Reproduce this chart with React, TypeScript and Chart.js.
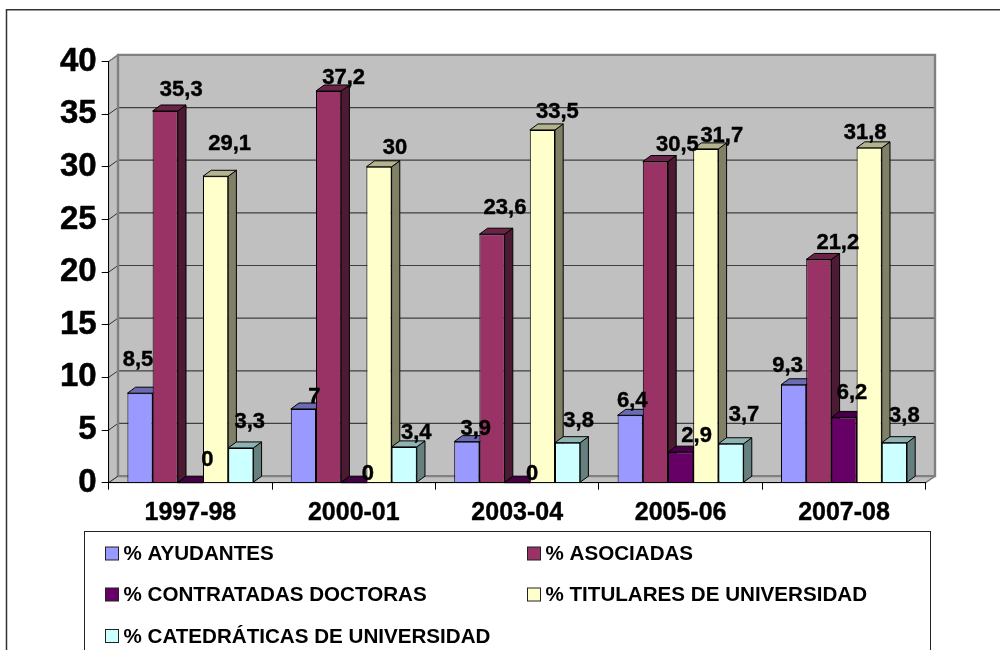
import React, { useEffect, useRef } from "react";
import { Chart, registerables } from "chart.js";

Chart.register(...registerables);

const categories = ["1997-98", "2000-01", "2003-04", "2005-06", "2007-08"];
const seriesNames = [
  "% AYUDANTES",
  "% ASOCIADAS",
  "% CONTRATADAS DOCTORAS",
  "% TITULARES DE UNIVERSIDAD",
  "% CATEDRÁTICAS DE UNIVERSIDAD",
];
const ayudantes = [8.5, 7, 3.9, 6.4, 9.3];
const asociadas = [35.3, 37.2, 23.6, 30.5, 21.2];
const contratadas = [0, 0, 0, 2.9, 6.2];
const titulares = [29.1, 30, 33.5, 31.7, 31.8];
const catedraticas = [3.3, 3.4, 3.8, 3.7, 3.8];
const seriesValues = [ayudantes, asociadas, contratadas, titulares, catedraticas];

const frontColors = ["#9999FF", "#993366", "#660066", "#FFFFCC", "#CCFFFF"];
const topColors = ["#6B6BB3", "#6B2447", "#470047", "#B3B38F", "#8FB3B3"];
const sideColors = ["#4D4D80", "#4D1A33", "#330033", "#808066", "#668080"];

// Data-label displacement from each bar's top centre
const labelShift: number[][][] = [
  [[-2, -33], [11, -12], [9, -13], [2, -14], [-6, -19]],
  [[16, -21], [15, -13], [13, -26], [22, -17], [19, -17]],
  [[17, -23], [14, -9], [15, -9], [16, -16], [8, -24]],
  [[14, -32], [16, -19], [15, -18], [16, -13], [-4, -15]],
  [[9, -26], [12, -14], [11, -22], [13, -29], [10, -27]],
];

const FONT = '"Liberation Sans", Arial, sans-serif';
const BAR_DX = 8.2;
const BAR_DY = -6;
const WALL_DX = 9.3;
const WALL_DY = -6.6;

function poly(ctx: CanvasRenderingContext2D, pts: number[][], fill: string | null, stroke: string | null, lw = 1) {
  ctx.beginPath();
  pts.forEach((p, i) => (i ? ctx.lineTo(p[0], p[1]) : ctx.moveTo(p[0], p[1])));
  ctx.closePath();
  if (fill) {
    ctx.fillStyle = fill;
    ctx.fill();
  }
  if (stroke) {
    ctx.strokeStyle = stroke;
    ctx.lineWidth = lw;
    ctx.stroke();
  }
}

const wallsPlugin = {
  id: "walls",
  beforeDraw(chart: any) {
    const { ctx, chartArea: a, scales } = chart;
    ctx.save();
    // outer frame, running off the picture to the right and bottom
    ctx.strokeStyle = "#333333";
    ctx.lineWidth = 1.5;
    ctx.strokeRect(6.5, 9.75, 1100, 800);

    const L = a.left, R = a.right, T = a.top, B = a.bottom;
    poly(ctx, [[L, T], [L + WALL_DX, T + WALL_DY], [L + WALL_DX, B + WALL_DY], [L, B]], "#C0C0C0", "#808080", 1);
    poly(ctx, [[L + WALL_DX, T + WALL_DY], [R + WALL_DX, T + WALL_DY], [R + WALL_DX, B + WALL_DY], [L + WALL_DX, B + WALL_DY]], "#C0C0C0", null);
    poly(ctx, [[L, B], [L + WALL_DX, B + WALL_DY], [R + WALL_DX, B + WALL_DY], [R, B]], "#C0C0C0", "#808080", 1);

    // gridlines on the back and side wall
    const y = scales.y;
    y.ticks.forEach((t: any) => {
      const py = y.getPixelForValue(t.value);
      ctx.beginPath();
      ctx.moveTo(L, py);
      ctx.lineTo(L + WALL_DX, py + WALL_DY);
      ctx.strokeStyle = "#333333";
      ctx.lineWidth = 1;
      ctx.stroke();
      if (t.value > 0 && t.value < 40) {
        ctx.beginPath();
        ctx.moveTo(L + WALL_DX, py + WALL_DY);
        ctx.lineTo(R + WALL_DX, py + WALL_DY);
        ctx.strokeStyle = "#404040";
        ctx.lineWidth = 1.2;
        ctx.stroke();
      }
    });
    // thick wall edges
    ctx.strokeStyle = "#808080";
    ctx.lineWidth = 2.4;
    ctx.beginPath();
    ctx.moveTo(L + WALL_DX, B + WALL_DY);
    ctx.lineTo(L + WALL_DX, T + WALL_DY);
    ctx.lineTo(R + WALL_DX, T + WALL_DY);
    ctx.lineTo(R + WALL_DX, B + WALL_DY);
    ctx.lineTo(L + WALL_DX, B + WALL_DY);
    ctx.stroke();
    ctx.lineWidth = 1.5;
    ctx.beginPath();
    ctx.moveTo(L, T);
    ctx.lineTo(L + WALL_DX, T + WALL_DY);
    ctx.moveTo(R, B);
    ctx.lineTo(R + WALL_DX, B + WALL_DY);
    ctx.stroke();
    ctx.restore();
  },
  beforeDatasetsDraw(chart: any) {
    const { ctx } = chart;
    ctx.save();
    ctx.lineJoin = "round";
    chart.data.datasets.forEach((_: any, di: number) => {
      chart.getDatasetMeta(di).data.forEach((bar: any) => {
        const { x, y, base, width } = bar.getProps(["x", "y", "base", "width"], true);
        const l = x - width / 2;
        const r = x + width / 2;
        poly(ctx, [[r, y], [r + BAR_DX, y + BAR_DY], [r + BAR_DX, base + BAR_DY], [r, base]], sideColors[di], "#000000", 1);
        poly(ctx, [[l, y], [l + BAR_DX, y + BAR_DY], [r + BAR_DX, y + BAR_DY], [r, y]], topColors[di], "#000000", 1);
      });
    });
    ctx.restore();
  },
  afterDatasetsDraw(chart: any) {
    const { ctx } = chart;
    ctx.save();
    // data labels
    ctx.font = `bold 22px ${FONT}`;
    ctx.fillStyle = "#000000";
    ctx.strokeStyle = "#000000";
    ctx.lineWidth = 0.4;
    ctx.textAlign = "center";
    ctx.textBaseline = "middle";
    chart.data.datasets.forEach((ds: any, di: number) => {
      chart.getDatasetMeta(di).data.forEach((bar: any, i: number) => {
        const [dx, dy] = labelShift[di][i];
        const text = String(ds.data[i]).replace(".", ",");
        ctx.fillText(text, bar.x + dx, bar.y + dy);
        ctx.strokeText(text, bar.x + dx, bar.y + dy);
      });
    });
    // legend
    ctx.fillStyle = "#FFFFFF";
    ctx.strokeStyle = "#222222";
    ctx.lineWidth = 1;
    ctx.fillRect(84.5, 531.5, 846, 200);
    ctx.strokeRect(84.5, 531.5, 846, 200);
    const colX = [105, 527];
    const rowY = [553.5, 594.5, 636];
    ctx.textAlign = "left";
    ctx.font = `bold 20.6px ${FONT}`;
    chart.data.datasets.forEach((ds: any, di: number) => {
      const sx = colX[di % 2];
      const sy = rowY[Math.floor(di / 2)];
      ctx.fillStyle = ds.backgroundColor;
      ctx.strokeStyle = "#222222";
      ctx.lineWidth = 1;
      ctx.fillRect(sx + 0.5, sy - 6.5, 13, 13);
      ctx.strokeRect(sx + 0.5, sy - 6.5, 13, 13);
      ctx.fillStyle = "#000000";
      ctx.fillText(ds.label, sx + 18.5, sy + 1);
    });
    ctx.restore();
  },
};

export default function App() {
  const ref = useRef<HTMLCanvasElement>(null);
  useEffect(() => {
    const chart = new Chart(ref.current as HTMLCanvasElement, {
      type: "bar",
      data: {
        labels: categories,
        datasets: seriesValues.map((data, i) => ({
          label: seriesNames[i],
          data,
          backgroundColor: frontColors[i],
          borderColor: "#000000",
          borderWidth: 1,
          categoryPercentage: 0.771,
          barPercentage: 1,
        })),
      },
      options: {
        responsive: false,
        animation: false,
        layout: { padding: { left: 0, top: 61.5, right: 74.3, bottom: 0 } },
        plugins: { legend: { display: false }, title: { display: false }, tooltip: { enabled: false } },
        scales: {
          x: {
            afterFit: (s: any) => { s.height = 167.3; },
            grid: { drawOnChartArea: false, color: "#000000", tickLength: 7, offset: true },
            border: { color: "#000000", width: 1 },
            ticks: {
              color: "#000000",
              padding: 8,
              maxRotation: 0,
              textStrokeColor: "#000000",
              textStrokeWidth: 0.4,
              font: { family: FONT, size: 25, weight: "bold" },
            },
          },
          y: {
            min: 0,
            max: 40,
            afterFit: (s: any) => { s.width = 108.7; },
            grid: { drawOnChartArea: false, color: "#000000", tickLength: 7 },
            border: { color: "#000000", width: 1 },
            ticks: {
              stepSize: 5,
              color: "#000000",
              padding: 5,
              textStrokeColor: "#000000",
              textStrokeWidth: 0.5,
              font: { family: FONT, size: 33, weight: "bold" },
            },
          },
        },
      },
      plugins: [wallsPlugin],
    } as any);
    return () => chart.destroy();
  }, []);
  return (
    <canvas
      ref={ref}
      width={1000}
      height={650}
      style={{ position: "absolute", left: 0, top: 0, width: 1000, height: 650, background: "#FFFFFF" }}
    />
  );
}
